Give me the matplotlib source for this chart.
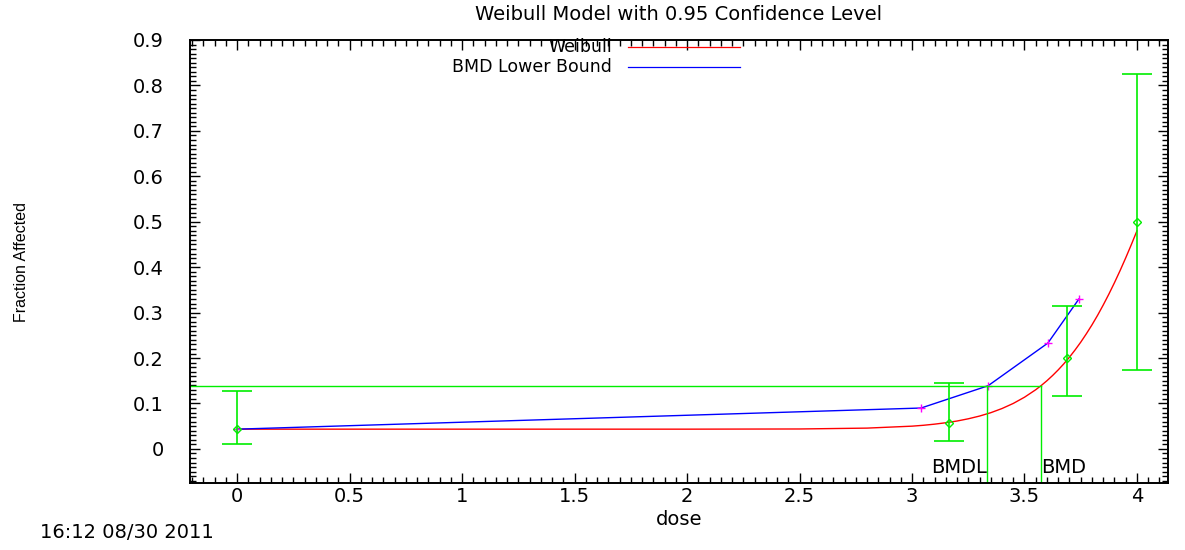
import matplotlib
matplotlib.use('Agg')
import matplotlib.pyplot as plt
import numpy as np
from matplotlib.ticker import MultipleLocator

plt.rcParams['font.family'] = ['DejaVu Sans']

# observed fractions with 95% confidence bounds
obs_dose = [0.0, 3.164, 3.689, 4.0]
obs_frac = [0.0435, 0.057, 0.200, 0.500]
obs_low = [0.011, 0.018, 0.117, 0.174]
obs_high = [0.128, 0.145, 0.315, 0.825]

# fitted Weibull curve
fit_dose = [0.0, 0.5, 1.0, 1.5, 2.0, 2.5, 2.8, 3.0, 3.05, 3.1, 3.15, 3.2, 3.25,
            3.3, 3.35, 3.4, 3.45, 3.5, 3.55, 3.575, 3.6, 3.625, 3.65, 3.675,
            3.7, 3.725, 3.75, 3.775, 3.8, 3.825, 3.85, 3.875, 3.9, 3.925,
            3.95, 3.975, 4.0]
fit_frac = [0.0435, 0.0435, 0.0435, 0.0435, 0.0435, 0.0439, 0.0458, 0.0501,
            0.0520, 0.0545, 0.0576, 0.0614, 0.0663, 0.0723, 0.0797, 0.0889,
            0.1001, 0.1138, 0.1303, 0.1398, 0.1502, 0.1616, 0.1740, 0.1874,
            0.2020, 0.2179, 0.2349, 0.2534, 0.2730, 0.2941, 0.3167, 0.3406,
            0.3659, 0.3925, 0.4205, 0.4497, 0.480]

# BMD lower bound curve
lb_dose = [0.0, 3.04, 3.338, 3.604, 3.742]
lb_frac = [0.0435, 0.090, 0.139, 0.233, 0.330]

bmr_level = 0.139
bmdl = 3.333
bmd = 3.573

xmin, xmax = -0.21, 4.138
ymin, ymax = -0.075, 0.9

fs = 14

fig = plt.figure(figsize=(11.85, 5.5), dpi=100)
ax = fig.add_axes([190 / 1185, 1 - 483 / 550, (1168 - 190) / 1185, (483 - 40) / 550])

ax.plot(fit_dose, fit_frac, color='red', lw=1.0)
ax.plot(lb_dose, lb_frac, color='blue', lw=1.0)
ax.plot(lb_dose, lb_frac, ls='none', marker='+', color='magenta', ms=6, mew=1.0)

green = '#00ee00'
ax.errorbar(obs_dose, obs_frac,
            yerr=[np.subtract(obs_frac, obs_low), np.subtract(obs_high, obs_frac)],
            fmt='D', ms=4.5, mfc='none', mec=green, ecolor=green, elinewidth=1.2,
            capsize=11, capthick=1.2)

ax.plot([xmin, bmd], [bmr_level, bmr_level], color=green, lw=1.0)
ax.plot([bmdl, bmdl], [ymin, bmr_level], color=green, lw=1.0)
ax.plot([bmd, bmd], [ymin, bmr_level], color=green, lw=1.0)
ax.text(bmdl, -0.04, 'BMDL', ha='right', va='center', fontsize=fs)
ax.text(bmd, -0.04, 'BMD', ha='left', va='center', fontsize=fs)

ax.set_xlim(xmin, xmax)
ax.set_ylim(ymin, ymax)
ax.xaxis.set_major_locator(MultipleLocator(0.5))
ax.xaxis.set_minor_locator(MultipleLocator(0.05))
ax.yaxis.set_major_locator(MultipleLocator(0.1))
ax.yaxis.set_minor_locator(MultipleLocator(0.01))
ax.xaxis.set_major_formatter(plt.FuncFormatter(lambda v, p: f'{v:g}'))
ax.yaxis.set_major_formatter(plt.FuncFormatter(lambda v, p: f'{v:g}'))
ax.tick_params(which='both', direction='in', top=True, right=True, labelsize=fs, width=1)
ax.tick_params(which='major', length=7)
ax.tick_params(which='minor', length=4)
ax.tick_params(axis='x', pad=3)
ax.tick_params(axis='y', pad=19)
for s in ax.spines.values():
    s.set_linewidth(1.4)

ax.set_xlabel('dose', fontsize=fs, labelpad=3)
fig.text(22 / 1185, 1 - 262 / 550, 'Fraction Affected', rotation=90, ha='center', va='center',
         fontsize=11.5, family=['Liberation Sans'])
fig.text(679 / 1185, 1 - 14 / 550, 'Weibull Model with 0.95 Confidence Level',
         ha='center', va='center', fontsize=fs)
fig.text(40 / 1185, 1 - 533 / 550, '16:12 08/30 2011', ha='left', va='center', fontsize=fs)

# legend drawn gnuplot style: text right aligned, sample line to the right
leg_items = [('Weibull', 'red'), ('BMD Lower Bound', 'blue')]
leg_rows = [47, 67]
for (name, col), row in zip(leg_items, leg_rows):
    yy = 1 - row / 550
    ax.text(612 / 1185, yy, name, ha='right', va='center', fontsize=12.5,
            transform=fig.transFigure, zorder=5)
    ax.plot([628 / 1185, 740 / 1185], [yy, yy], color=col, lw=0.9,
            transform=fig.transFigure, clip_on=False)

fig.savefig('out.png', dpi=100)
